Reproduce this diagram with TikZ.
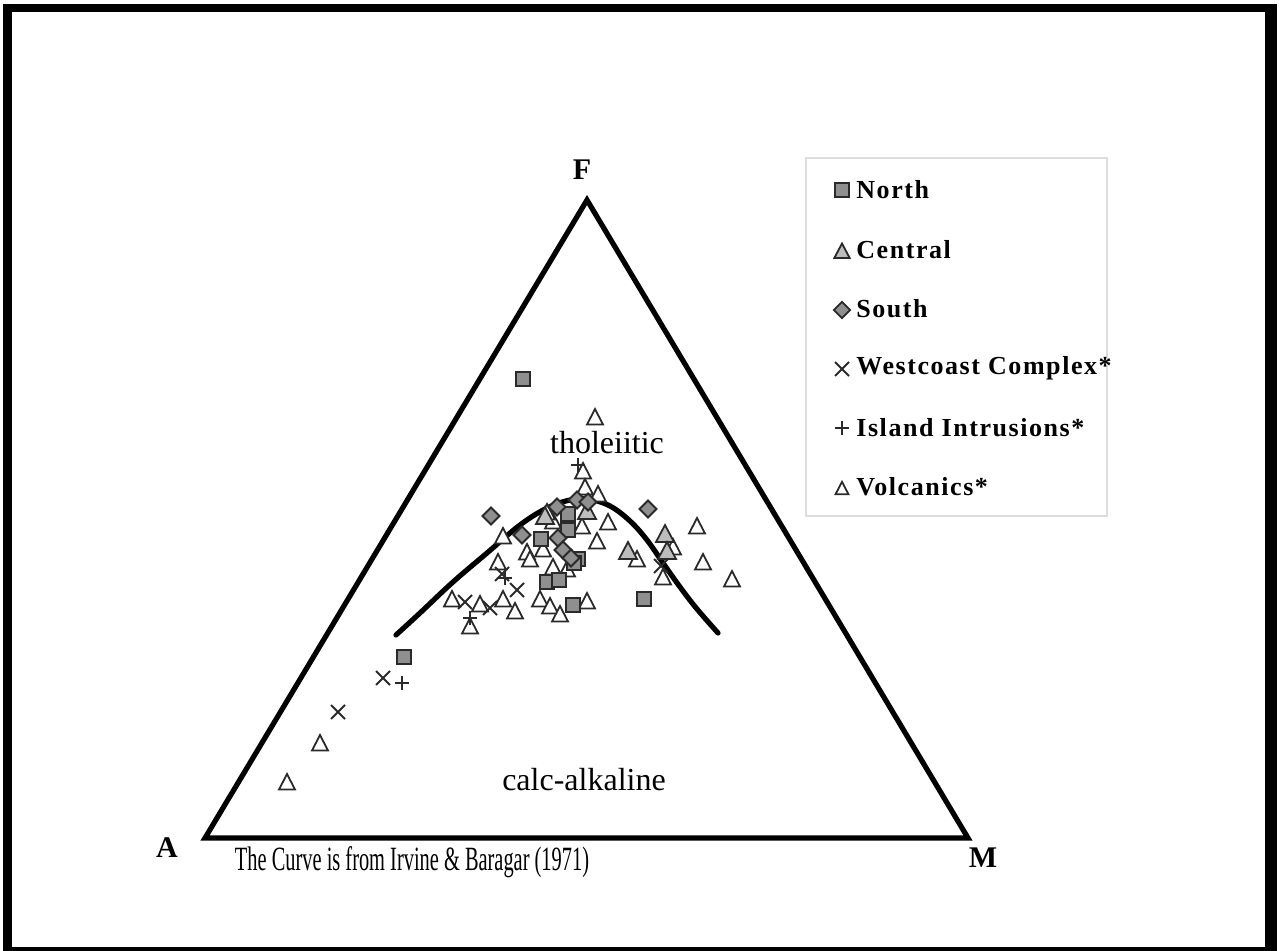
\documentclass[tikz,border=0pt]{standalone}
\usepackage{fontspec}
\setmainfont{Liberation Serif}
\definecolor{mkgray}{HTML}{8F8F8F}
\definecolor{ctgray}{HTML}{BDBDBD}
\definecolor{mkline}{HTML}{2A2A2A}
\definecolor{legline}{HTML}{DDDDDD}
\tikzset{
  mk/.style={draw=mkline, line width=0.9pt, line join=miter},
  sqm/.pic={\draw[mk, fill=mkgray] (-7,-7) rectangle (7,7);},
  dim/.pic={\draw[mk, fill=mkgray] (0,-8.5) -- (8.5,0) -- (0,8.5) -- (-8.5,0) -- cycle;},
  ctm/.pic={\draw[mk, fill=ctgray] (0,-10) -- (9,7) -- (-9,7) -- cycle;},
  vom/.pic={\draw[mk, fill=white] (0,-9) -- (8,6.5) -- (-8,6.5) -- cycle;},
  crm/.pic={\draw[mkline, line width=0.9pt] (-7,-7) -- (7,7) (-7,7) -- (7,-7);},
  plm/.pic={\draw[mkline, line width=0.9pt] (-7,0) -- (7,0) (0,-7) -- (0,7);},
  vtx/.style={font=\fontsize{15}{18}\selectfont\bfseries, inner sep=0pt},
  field/.style={font=\fontsize{16}{19}\selectfont, inner sep=0pt},
  legtext/.style={font=\fontsize{13}{15}\selectfont\bfseries\addfontfeature{LetterSpace=6}, anchor=west, inner sep=0pt},
  axisline/.style={line width=2.6pt, line join=miter},
}
\begin{document}
\begin{tikzpicture}[x=0.5pt,y=-0.5pt]
\useasboundingbox (0,0) rectangle (1280,951);
% frame
\fill[black] (3,4) rectangle (1277,951);
\fill[white] (12,12) rectangle (1265,947);
% triangle
\coordinate (A) at (205,838);
\coordinate (M) at (968,838);
\coordinate (F) at (587,200);
\draw[axisline] (A) -- (F) -- (M) -- cycle;
\node[vtx] (lA) at (167,848) {A};
\node[vtx] (lM) at (983,858) {M};
\node[vtx] (lF) at (582,170) {F};
\node[field] (thol) at (607,443) {tholeiitic};
\node[field] (calc) at (584,780) {calc-alkaline};
\node[inner sep=0pt, font=\fontsize{17}{20}\selectfont, xscale=0.6] (cap) at (412,862) {The Curve is from Irvine \& Baragar (1971)};
% curve
\draw[line width=2.6pt, line cap=round] plot[smooth, tension=0.6] coordinates {
 (396,635) (420,613) (453,582) (487,553) (520,525) (547,508) (570,500) (588,499)
 (610,506) (630,521) (647,540) (663,563) (680,587) (697,609) (718,633)};
% volcanics (white triangles)
\foreach \x/\y in {595/418, 583/472, 585/488, 598/495, 553/522, 582/527, 608/523, 597/542,
  527/553, 530/560, 543/550, 498/563, 503/537, 553/568, 452/600, 480/605, 503/600, 515/612,
  540/600, 550/607, 560/615, 587/602, 470/627, 637/560, 697/527, 673/548, 663/578, 703/563,
  732/580, 320/744, 287/783, 547/513, 567/570}
  \pic at (\x,\y) {vom};
% central (grey triangles)
\foreach \x/\y in {665/535, 667/552, 628/552, 545/517, 587/512}
  \pic at (\x,\y) {ctm};
% westcoast crosses
\foreach \x/\y in {502/574, 517/590, 465/602, 490/608, 383/678, 338/712, 661/566}
  \pic at (\x,\y) {crm};
% island pluses
\foreach \x/\y in {578/465, 505/578, 470/618, 402/683}
  \pic at (\x,\y) {plm};
% north squares
\foreach \x/\y in {523/379, 404/657, 644/599, 573/605, 541/539, 547/582, 559/580,
  568/514, 568/530, 578/559, 574/563}
  \pic at (\x,\y) {sqm};
% south diamonds
\foreach \x/\y in {491/516, 648/509, 522/535, 557/507, 577/500, 588/502, 558/538, 563/550, 571/558}
  \pic at (\x,\y) {dim};
% legend
\draw[legline, line width=0.7pt] (806,158) rectangle (1107,516);
\pic at (842,190) {sqm};
\pic[scale=0.85] at (842,252) {ctm};
\pic[scale=0.95] at (842,310) {dim};
\pic at (842,369) {crm};
\pic at (842,428) {plm};
\pic[scale=0.8] at (842,489) {vom};
\node[legtext] (l1) at (856,190) {North};
\node[legtext] (l2) at (856,250) {Central};
\node[legtext] (l3) at (856,309) {South};
\node[legtext] (l4) at (856,368) {Westcoast Complex*};
\node[legtext] (l5) at (856,428) {Island Intrusions*};
\node[legtext] (l6) at (856,487) {Volcanics*};
\end{tikzpicture}
\end{document}
